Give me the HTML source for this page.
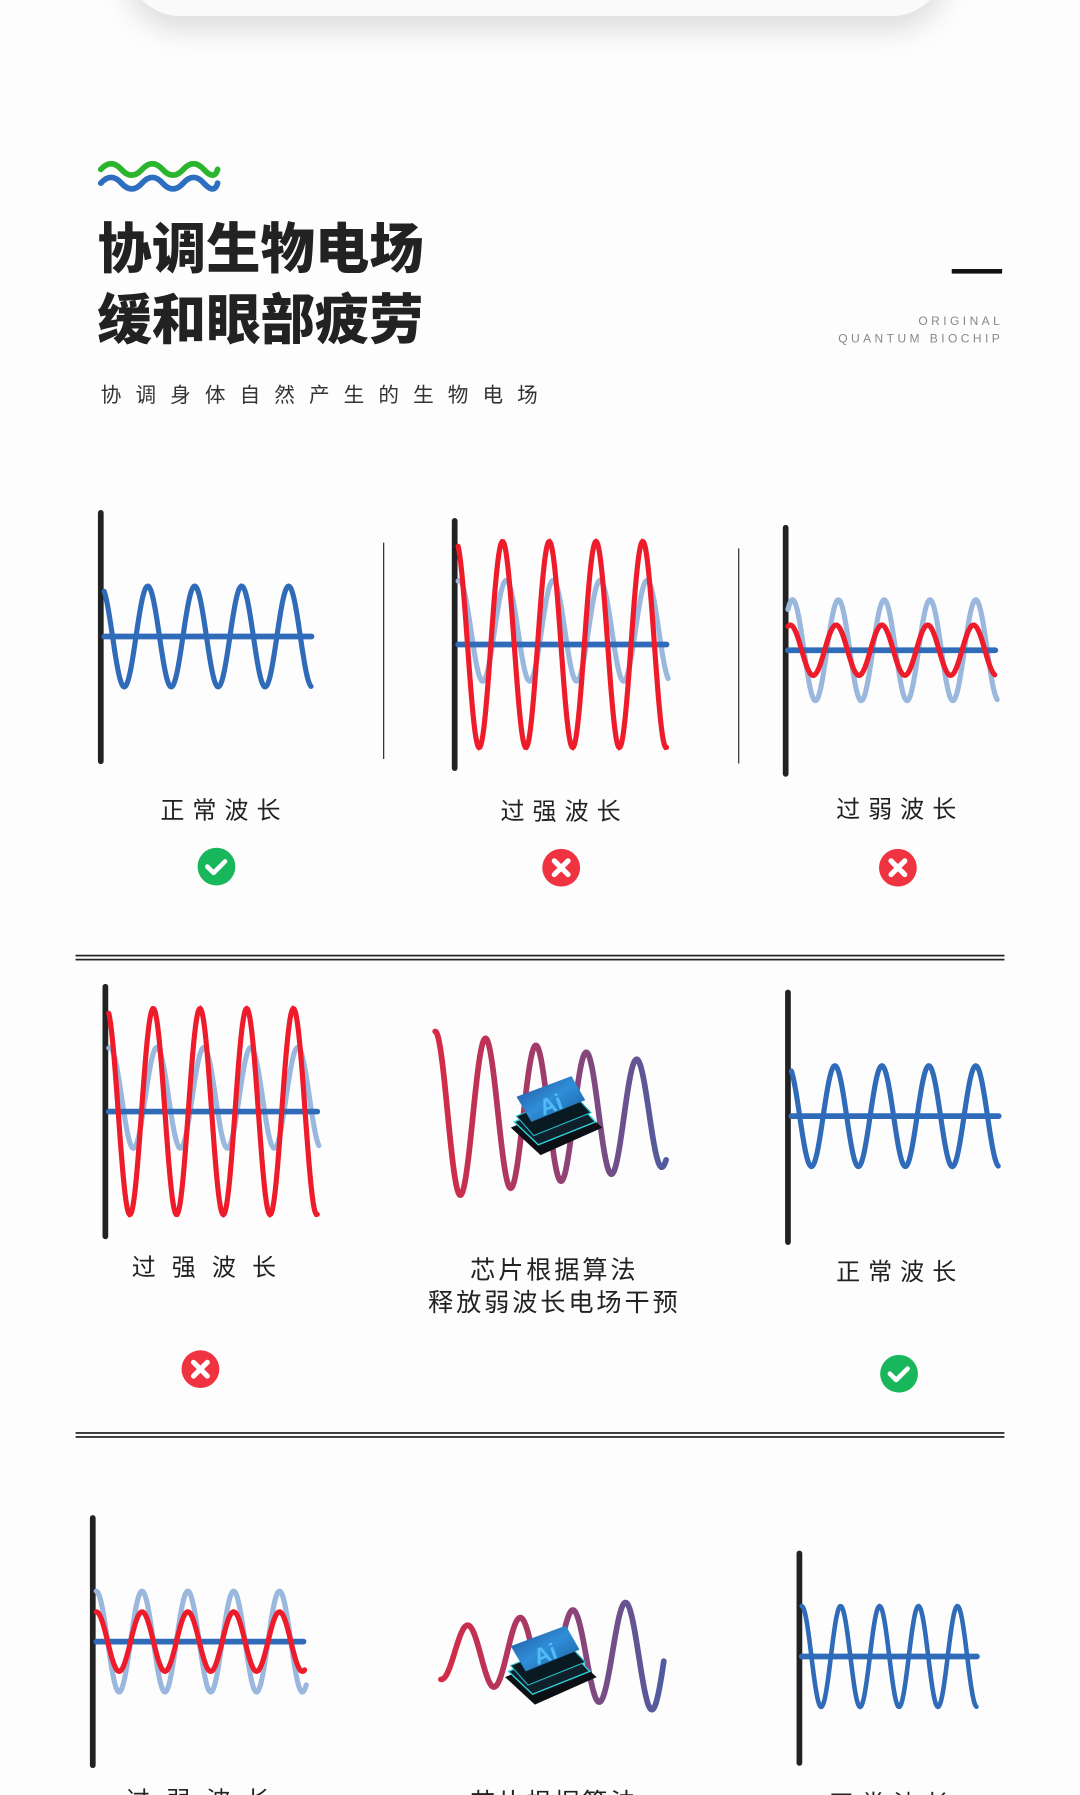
<!DOCTYPE html>
<html><head><meta charset="utf-8"><style>
html,body{margin:0;padding:0;background:#fdfdfd;}
svg{display:block}
text{font-family:"Liberation Sans","Noto Sans CJK SC",sans-serif;}
</style></head><body>
<svg id="s" width="1080" height="1795" viewBox="0 0 943 1568" preserveAspectRatio="none" xmlns="http://www.w3.org/2000/svg">
<defs>
<filter id="sh" x="-20%" y="-50%" width="140%" height="250%"><feDropShadow dx="0" dy="12" stdDeviation="12" flood-color="#000" flood-opacity="0.13"/></filter>
<linearGradient id="gw" x1="0" x2="1" y1="0" y2="0"><stop offset="0" stop-color="#d62a45"/><stop offset="0.5" stop-color="#9a3e6e"/><stop offset="1" stop-color="#4f5ca0"/></linearGradient>
<linearGradient id="gt" x1="0" x2="1" y1="0" y2="1"><stop offset="0" stop-color="#1f4f9a"/><stop offset="0.5" stop-color="#2f8fd8"/><stop offset="1" stop-color="#175a9c"/></linearGradient>
<g id="chip">
<polygon points="446,985 500,962 526,985 472,1009" fill="#0c0f14"/>
<polygon points="449,980 500,959 520,980 470,1000" fill="#10202a" stroke="#2fd6e0" stroke-width="1.2"/>
<polygon points="451,975 500,955 516,972 466,992" fill="#0a1a22" stroke="#23b8c8" stroke-width="1"/>
<polygon points="451,958 499,940 511,961 464,980" fill="url(#gt)"/>
<text x="470" y="972" font-size="20" font-weight="bold" fill="#5ac8ff" fill-opacity="0.8" transform="rotate(-20 480 962)">Ai</text>
</g>
</defs>
<rect width="943" height="1568" fill="#fdfdfd"/>
<rect x="110" y="-120" width="716" height="134" rx="48" fill="#fafafa" filter="url(#sh)"/>
<path d="M88 148 q9 -10 18 0 t18 0 t18 0 t18 0 t18 0 t12 0" stroke="#2bb52f" stroke-width="5" fill="none" stroke-linecap="round"/>
<path d="M88 157 q9 -10 18 0 t18 0 t18 0 t18 0 t18 0 t12 0" stroke="#2d6ec0" stroke-width="5" fill="none" stroke-linecap="round" transform="translate(0,3)"/>
<text x="85" y="234" font-size="47.5" font-weight="900" fill="#222" style="font-family:'Noto Sans CJK SC',sans-serif">协调生物电场</text>
<text x="85" y="296" font-size="47.5" font-weight="900" fill="#222" style="font-family:'Noto Sans CJK SC',sans-serif">缓和眼部疲劳</text>
<rect x="831" y="235" width="44" height="4" fill="#111"/>
<text x="876" y="284" font-size="10.5" fill="#888" text-anchor="end" letter-spacing="3">ORIGINAL</text>
<text x="876" y="299" font-size="10.5" fill="#888" text-anchor="end" letter-spacing="3">QUANTUM BIOCHIP</text>
<text x="88" y="351" font-size="18" fill="#333" letter-spacing="12.3">协调身体自然产生的生物电场</text>
<line x1="335" y1="474" x2="335" y2="663" stroke="#222" stroke-width="1"/>
<line x1="645" y1="479" x2="645" y2="667" stroke="#222" stroke-width="1"/>
<g id="waves"></g>
<g font-size="21" fill="#222" text-anchor="middle" letter-spacing="7">
<text x="196" y="715">正常波长</text>
<text x="493" y="716">过强波长</text>
<text x="786" y="714">过弱波长</text>
<text x="185" y="1114" letter-spacing="14">过强波长</text>
<text x="484" y="1117" font-size="22" letter-spacing="2.5">芯片根据算法</text>
<text x="484" y="1145" font-size="22" letter-spacing="2.5">释放弱波长电场干预</text>
<text x="786" y="1118">正常波长</text>
<text x="180" y="1580" letter-spacing="14">过弱波长</text>
<text x="484" y="1582" font-size="22" letter-spacing="2.5">芯片根据算法</text>
<text x="780" y="1583">正常波长</text>
</g>
<rect x="66" y="834" width="811" height="1.5" fill="#222"/><rect x="66" y="837.5" width="811" height="1.5" fill="#222"/>
<rect x="66" y="1251" width="811" height="1.5" fill="#222"/><rect x="66" y="1254.5" width="811" height="1.5" fill="#222"/>
<g id="icons"></g>
<use href="#chip"/>
<use href="#chip" transform="translate(-5,480)"/>
</svg>
<script>
var NS="http://www.w3.org/2000/svg",W=document.getElementById('waves');
function sine(x0,x1,c,a,p,ph,a1){var d="";for(var x=x0;x<=x1+0.01;x+=0.7){var t=(x-x0)/(x1-x0);var A=a1===undefined?a:a+(a1-a)*t;var y=c-A*Math.cos(2*Math.PI*(x-ph)/p);d+=(d?"L":"M")+x.toFixed(1)+" "+y.toFixed(1);}return d;}
function P(d,col,w){var e=document.createElementNS(NS,'path');e.setAttribute('d',d);e.setAttribute('stroke',col);e.setAttribute('stroke-width',w);e.setAttribute('fill','none');e.setAttribute('stroke-linecap','round');W.appendChild(e);}
function L(x1,y1,x2,y2,col,w){P("M"+x1+" "+y1+"L"+x2+" "+y2,col,w);}
var B="#2f6bb8",LB="#9ab7de",R="#ee1c2b",K="#222";
L(88,448,88,665,K,5);P(sine(91,272,556,44,41,88),B,4.5);L(91,556,272,556,B,5);
L(397,455,397,671,K,5);P(sine(400,584,551,44,41,401),LB,4.5);L(400,563,582,563,B,5);P(sine(400,582,563,90,40.8,398),R,4.5);
L(686,461,686,676,K,5);P(sine(688,871,568,44,40,692),LB,4.5);L(688,568,869,568,B,5);P(sine(688,869,568,22,40,690),R,4.5);
L(92,862,92,1080,K,5);P(sine(95,279,959,44,41,96),LB,4.5);L(95,971,277,971,B,5);P(sine(95,277,971,90,40.8,93),R,4.5);
P(sine(380,582,974,73,44,380,45),"url(#gw)",5);
L(688,867,688,1085,K,5);P(sine(691,872,975,44,41,688),B,4.5);L(691,975,872,975,B,5);
L(81,1326,81,1542,K,5);P(sine(84,268,1434,44,40,84),LB,4.5);L(84,1434,265,1434,B,5);P(sine(84,266,1434,26,40,84),R,4.5);
P(sine(385,580,1445,-22,46,385,-50),"url(#gw)",5);
L(698,1357,698,1540,K,5);P(sine(700,853,1447,44,34,700),B,4);L(700,1447,853,1447,B,5);
var I=document.getElementById('icons');
function icon(x,y,ok){var g=document.createElementNS(NS,'g');var s='<circle cx="'+x+'" cy="'+y+'" r="16.5" fill="'+(ok?'#19b75b':'#ef3340')+'"/>';
if(ok)s+='<path d="M'+(x-8)+' '+y+' l5.5 5.5 l10 -10" stroke="#fff" stroke-width="4" fill="none" stroke-linecap="round" stroke-linejoin="round"/>';
else s+='<path d="M'+(x-6)+' '+(y-6)+' l12 12 M'+(x+6)+' '+(y-6)+' l-12 12" stroke="#fff" stroke-width="4.5" stroke-linecap="round"/>';
g.innerHTML=s;I.appendChild(g);}
icon(189,757,1);icon(490,758,0);icon(784,758,0);icon(175,1196,0);icon(785,1200,1);
</script>
</body></html>
